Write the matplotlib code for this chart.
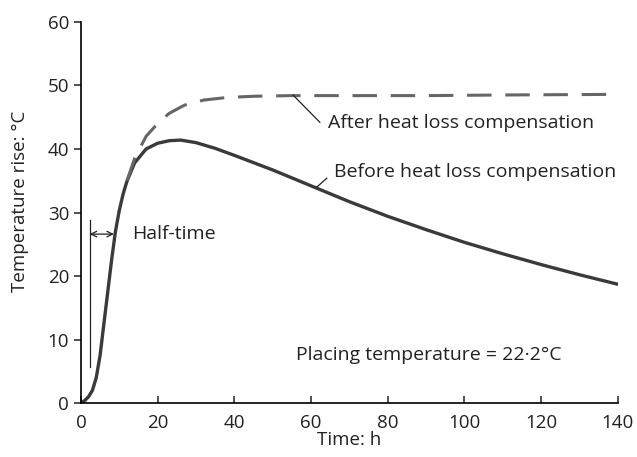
import numpy as np
import matplotlib.pyplot as plt

plt.rcParams['font.family'] = ['Open Sans', 'DejaVu Sans']

# Before heat loss compensation (solid)
t_before = [0, 1, 2, 3, 4, 5, 6, 7, 8, 9, 10, 11, 12, 14, 17, 20, 23, 26, 30, 35, 40, 50, 60, 70, 80, 90, 100, 110, 120, 130, 140]
temp_before = [0, 0.4, 1.0, 2.0, 4.0, 7.5, 12.5, 17.5, 22.5, 27.0, 30.3, 32.9, 34.9, 37.8, 40.0, 40.9, 41.3, 41.4, 41.0, 40.1, 39.0, 36.7, 34.2, 31.7, 29.4, 27.3, 25.3, 23.5, 21.8, 20.2, 18.7]

# After heat loss compensation (dashed)
t_after = [12, 14, 17, 20, 23, 27, 32, 38, 45, 55, 70, 90, 110, 140]
temp_after = [35.0, 38.5, 42.0, 44.0, 45.6, 46.9, 47.7, 48.1, 48.3, 48.4, 48.4, 48.4, 48.5, 48.6]

fig = plt.figure(figsize=(6.37, 4.57), dpi=100)
ax = fig.add_axes([0.127, 0.118, 0.843, 0.834])

ax.plot(t_before, temp_before, color='#3a3a3a', lw=2.4, solid_capstyle='round')
ax.plot(t_after, temp_after, color='#666666', lw=2.2, dashes=(8, 4.5))

# half-time marker
ax.plot([2.3, 2.3], [5.7, 28.8], color='#222222', lw=0.9)
ax.annotate('', xy=(2.3, 26.6), xytext=(8.6, 26.6),
            arrowprops=dict(arrowstyle='<->', color='#222222', lw=0.9, shrinkA=0, shrinkB=0))
ax.text(13.3, 26.6, 'Half-time', fontsize=14, va='center', ha='left', color='#222222')

# leaders and labels
ax.plot([55.3, 62.3], [48.5, 44.2], color='#222222', lw=0.9)
ax.text(64.3, 44.1, 'After heat loss compensation', fontsize=14, va='center', ha='left', color='#222222')
ax.plot([61.5, 64.1], [34.0, 35.4], color='#222222', lw=0.9)
ax.text(66.0, 36.4, 'Before heat loss compensation', fontsize=14, va='center', ha='left', color='#222222')
ax.text(56.0, 7.6, 'Placing temperature = 22·2°C', fontsize=14, va='center', ha='left', color='#222222')

ax.set_xlim(0, 140)
ax.set_ylim(0, 60)
ax.set_xticks(range(0, 141, 20))
ax.set_yticks(range(0, 61, 10))
ax.spines['top'].set_visible(False)
ax.spines['right'].set_visible(False)
ax.spines['left'].set_linewidth(1.2)
ax.spines['bottom'].set_linewidth(1.2)
ax.tick_params(labelsize=13.5, colors='#222222', width=1.1, length=5)
ax.tick_params(axis='x', direction='in', pad=8)
ax.set_xlabel('Time: h', fontsize=13.5, labelpad=-1, color='#222222')
ax.set_ylabel('Temperature rise: °C', fontsize=13.5, color='#222222')
ax.yaxis.set_label_coords(-0.097, 0.53)

fig.savefig('out.png', dpi=100)
